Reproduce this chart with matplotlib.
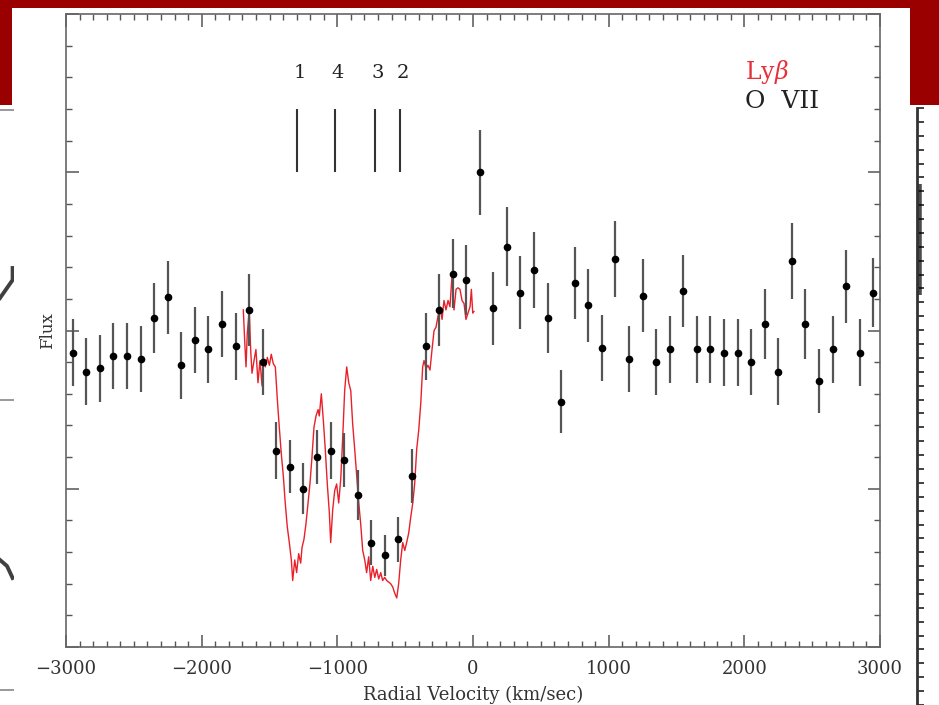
import numpy as np
import matplotlib.pyplot as plt
from matplotlib.patches import Rectangle
from matplotlib.ticker import MultipleLocator

plt.rcParams['font.family'] = ['DejaVu Serif', 'DejaVu Sans']
plt.rcParams['mathtext.fontset'] = 'dejavuserif'

# O VII binned points (km/s, flux, 1-sigma)
vel = [-2950, -2850, -2750, -2650, -2550, -2450, -2350, -2250, -2150, -2050,
       -1950, -1850, -1750, -1650, -1550, -1450, -1350, -1250, -1150, -1050,
       -950, -850, -750, -650, -550, -450, -350, -250, -150, -50,
       50, 150, 250, 350, 450, 550, 650, 750, 850, 950,
       1050, 1150, 1250, 1350, 1450, 1550, 1650, 1750, 1850, 1950,
       2050, 2150, 2250, 2350, 2450, 2550, 2650, 2750, 2850, 2950]
flux = [1.86, 1.74, 1.76, 1.84, 1.84, 1.82, 2.08, 2.21, 1.78, 1.94,
        1.88, 2.04, 1.90, 2.13, 1.80, 1.24, 1.14, 1.00, 1.20, 1.24,
        1.18, 0.96, 0.66, 0.58, 0.68, 1.08, 1.90, 2.13, 2.36, 2.32,
        3.00, 2.14, 2.53, 2.24, 2.38, 2.08, 1.55, 2.30, 2.16, 1.89,
        2.45, 1.82, 2.22, 1.80, 1.88, 2.25, 1.88, 1.88, 1.86, 1.86,
        1.80, 2.04, 1.74, 2.44, 2.04, 1.68, 1.88, 2.28, 1.86, 2.24]
err = [0.21, 0.21, 0.21, 0.21, 0.21, 0.21, 0.22, 0.23, 0.21, 0.21,
       0.21, 0.21, 0.21, 0.23, 0.21, 0.18, 0.17, 0.16, 0.17, 0.18,
       0.17, 0.16, 0.14, 0.13, 0.14, 0.17, 0.21, 0.23, 0.22, 0.22,
       0.27, 0.23, 0.25, 0.23, 0.24, 0.22, 0.20, 0.23, 0.23, 0.21,
       0.24, 0.21, 0.23, 0.21, 0.21, 0.23, 0.21, 0.21, 0.21, 0.21,
       0.21, 0.22, 0.21, 0.24, 0.22, 0.20, 0.21, 0.23, 0.21, 0.22]

# Ly-beta profile, scaled onto the same flux axis
lyb_vel = [-1693, -1681, -1673, -1664, -1649, -1639, -1629, -1614, -1600, -1585,
           -1570, -1555, -1546, -1531, -1516, -1501, -1487, -1472, -1457, -1442,
           -1428, -1413, -1398, -1384, -1369, -1354, -1339, -1329, -1314, -1300,
           -1285, -1270, -1260, -1246, -1231, -1216, -1201, -1187, -1172, -1157,
           -1142, -1133, -1118, -1103, -1089, -1074, -1059, -1049, -1034, -1019,
           -1005, -990, -975, -960, -946, -931, -916, -901, -887, -872,
           -857, -842, -828, -813, -798, -784, -769, -754, -739, -724,
           -710, -695, -680, -666, -651, -636, -621, -607, -592, -577,
           -562, -548, -533, -518, -503, -489, -474, -459, -444, -430,
           -415, -400, -385, -371, -361, -346, -332, -317, -302, -287,
           -273, -258, -243, -228, -214, -199, -184, -170, -155, -140,
           -125, -111, -96, -81, -66, -52, -37, -22, -12, -2, 7]
lyb_flux = [2.13, 1.90, 1.77, 1.98, 2.13, 1.88, 1.73, 1.81, 1.88, 1.67,
            1.81, 1.65, 1.83, 1.77, 1.83, 1.78, 1.85, 1.79, 1.77, 1.56,
            1.39, 1.22, 1.08, 0.91, 0.76, 0.66, 0.55, 0.42, 0.55, 0.47,
            0.59, 0.53, 0.63, 0.68, 0.78, 0.91, 1.04, 1.20, 1.39, 1.46,
            1.50, 1.46, 1.60, 1.43, 1.25, 1.03, 0.85, 0.66, 0.87, 0.99,
            1.03, 0.91, 1.06, 1.33, 1.62, 1.77, 1.67, 1.62, 1.41, 1.25,
            1.08, 0.91, 0.78, 0.61, 0.55, 0.47, 0.57, 0.42, 0.51, 0.44,
            0.49, 0.43, 0.47, 0.42, 0.44, 0.42, 0.41, 0.40, 0.38, 0.34,
            0.31, 0.40, 0.55, 0.66, 0.61, 0.66, 0.72, 0.82, 0.91, 1.03,
            1.25, 1.37, 1.54, 1.77, 1.81, 1.76, 1.78, 1.75, 1.88, 2.00,
            2.02, 2.09, 2.15, 2.07, 2.19, 2.13, 2.19, 2.15, 2.34, 2.13,
            2.26, 2.27, 2.26, 2.19, 2.17, 2.07, 2.11, 2.15, 2.26, 2.11, 2.12]

# absorber components
comp_names = ['1', '4', '3', '2']
comp_vel = [-1300, -1020, -725, -540]

W, H = 939, 705
fig = plt.figure(figsize=(W / 100, H / 100), dpi=100)
fig.patch.set_facecolor('white')

# slide header band and the white card holding the plot (drawn under the axes)
fig.patches.append(Rectangle((0, 1 - 105 / H), 1, 105 / H, transform=fig.transFigure,
                             facecolor='#9a0000', edgecolor='none', zorder=-2))
fig.patches.append(Rectangle((12 / W, 0), 898 / W, 1 - 8 / H, transform=fig.transFigure,
                             facecolor='white', edgecolor='none', zorder=-1))

# neighbouring figure peeking in on the right
axr = fig.add_axes([917 / W, 0, 20 / W, 1 - 108 / H])
axr.set_facecolor('white')
for s in ['top', 'right', 'bottom']:
    axr.spines[s].set_visible(False)
axr.spines['left'].set_linewidth(2.0)
axr.spines['left'].set_color('#333333')
axr.set_xlim(0, 1)
axr.set_ylim(0, 43)
axr.yaxis.set_major_locator(MultipleLocator(1))
axr.tick_params(axis='y', direction='in', length=5, width=1.3, color='#333333', labelleft=False)
axr.set_xticks([])
axr.plot([0.08, 0.08], [29.5, 37.5], color='black', lw=4, alpha=0.7, solid_capstyle='butt')

# and on the left
axl = fig.add_axes([0, 0, 14 / W, 1 - 105 / H])
axl.axis('off')
axl.set_xlim(0, 1)
axl.set_ylim(705, 105)
left_ticks = [110, 400, 690]
axl.hlines(left_ticks, 0, 1, color='#888888', lw=1.2)
axl.plot([0, 0.5, 0.9, 0.9], [298, 288, 280, 268], color='black', lw=2.8, alpha=0.75)
axl.plot([0, 0.5, 0.9], [560, 566, 578], color='black', lw=2.8, alpha=0.75)

ax = fig.add_axes([66 / W, 1 - 647 / H, 814 / W, (647 - 14) / H])
ax.set_facecolor('white')

ax.plot(lyb_vel, lyb_flux, color='#e8202a', lw=1.0, zorder=2)
ax.errorbar(vel, flux, yerr=err, fmt='o', color='black', ms=4.5,
            ecolor='#555555', elinewidth=1.6, capsize=0, zorder=3)

ax.vlines(comp_vel, 3.0, 3.4, color='#333333', lw=1.5)
for name, v in zip(comp_names, comp_vel):
    ax.text(v + 25, 3.63, name, ha='center', va='center', fontsize=14, color='#222222')

ax.text(0.834, 0.908, r'Ly$\beta$', transform=ax.transAxes, color='#e8303a',
        fontsize=17, ha='left', va='center')
ax.text(0.834, 0.862, 'O  VII', transform=ax.transAxes, color='#222222',
        fontsize=18, ha='left', va='center')

ax.set_xlim(-3000, 3000)
ax.set_ylim(0, 4)
ax.xaxis.set_major_locator(MultipleLocator(1000))
ax.xaxis.set_minor_locator(MultipleLocator(100))
ax.yaxis.set_major_locator(MultipleLocator(1))
ax.yaxis.set_minor_locator(MultipleLocator(0.2))
ax.tick_params(which='both', direction='in', top=True, right=True, color='#555555',
               labelcolor='#333333', labelsize=13)
ax.tick_params(which='major', length=9, width=1.1, pad=9)
ax.tick_params(which='minor', length=4.5, width=1.0)
ax.tick_params(axis='y', labelleft=False)
for s in ax.spines.values():
    s.set_color('#666666')
    s.set_linewidth(1.2)

ax.set_xlabel('Radial Velocity (km/sec)', fontsize=13, color='#333333', labelpad=6)
ax.set_ylabel('Flux', fontsize=12, color='#333333', labelpad=4)

fig.savefig('out.png', dpi=100)
